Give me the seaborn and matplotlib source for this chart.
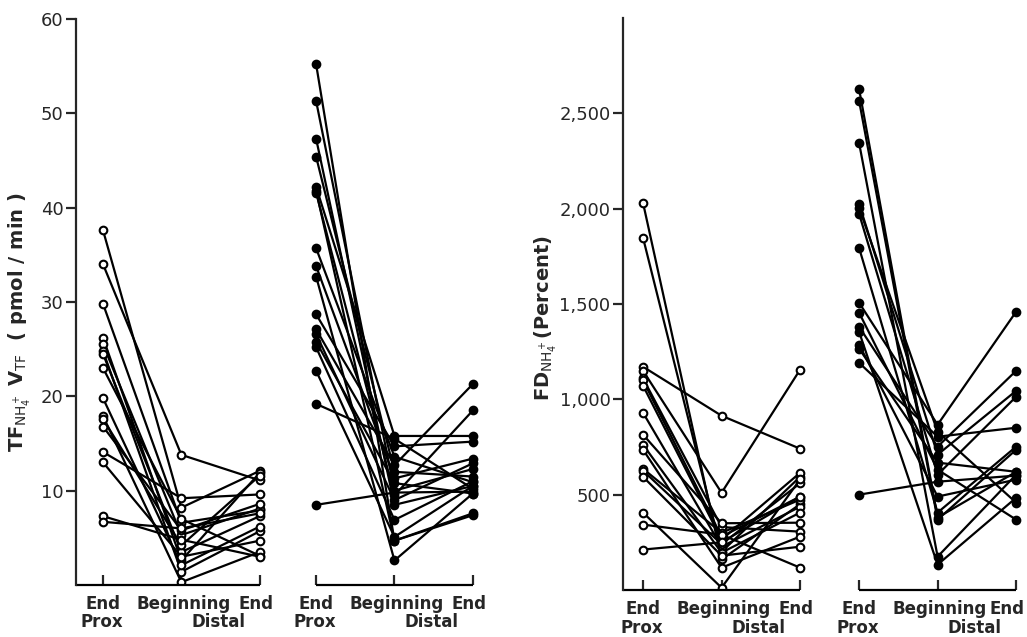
import matplotlib
matplotlib.use("Agg")
import matplotlib.pyplot as plt
import matplotlib.transforms as mtransforms
import numpy as np
import pandas as pd
import seaborn as sns

sns.set_style("ticks")
plt.rcParams["font.family"] = ["DejaVu Sans"]

# ---------------- data ----------------
stage_labels = ["End", "Beginning", "End"]
stage_labels2 = ["Prox", "Distal"]

# Left panel: TF_NH4+ * V_TF (pmol/min)
tf_open_prox = [37.6, 34.0, 29.8, 26.2, 25.5, 24.8, 24.5, 23.0, 19.8, 17.9, 17.6, 16.8, 14.1, 13.0, 7.3, 6.7]
tf_open_beg = [8.2, 13.8, 6.6, 2.6, 5.3, 1.4, 3.5, 7.0, 2.1, 0.3, 4.2, 5.8, 9.2, 3.0, 4.8, 6.0]
tf_open_end = [12.1, 11.1, 7.9, 11.9, 8.1, 5.7, 7.3, 3.1, 6.2, 3.5, 11.6, 8.6, 9.6, 4.7, 3.0, 7.6]

tf_fill_prox = [55.2, 51.3, 47.3, 45.4, 42.2, 41.8, 41.6, 35.7, 33.8, 32.7, 28.7, 27.1, 26.6, 25.8, 25.2, 22.7, 19.2, 8.5]
tf_fill_beg = [4.7, 10.0, 8.5, 12.0, 15.8, 4.7, 9.5, 13.6, 11.3, 2.6, 14.7, 12.7, 9.0, 10.8, 6.9, 5.1, 15.5, 9.8]
tf_fill_end = [7.4, 12.3, 10.5, 11.5, 15.8, 7.6, 18.5, 10.9, 13.4, 9.7, 15.2, 21.3, 12.9, 9.7, 11.0, 10.5, 10.2, 9.9]

# Right panel: FD_NH4+ (Percent)
fd_open_prox = [2031, 1848, 1171, 1150, 1110, 1100, 1072, 930, 815, 762, 736, 636, 626, 594, 406, 343, 212]
fd_open_beg = [160, 200, 914, 510, 330, 280, 264, 227, 350, 196, 117, 300, 240, 180, 12, 290, 250]
fd_open_end = [450, 594, 741, 1156, 306, 490, 615, 437, 353, 406, 280, 474, 560, 227, 580, 117, 490]

fd_fill_prox = [2629, 2567, 2346, 2026, 2005, 1974, 1795, 1507, 1455, 1381, 1355, 1287, 1266, 1192, 500]
fd_fill_beg = [380, 369, 175, 710, 830, 605, 406, 867, 631, 752, 133, 490, 668, 804, 568]
fd_fill_end = [620, 736, 605, 1045, 458, 1014, 752, 1460, 369, 1150, 484, 579, 620, 851, 600]

tf_ticks = [10, 20, 30, 40, 50, 60]
tf_ticklabels = ["10", "20", "30", "40", "50", "60"]
fd_ticks = [500, 1000, 1500, 2000, 2500]
fd_ticklabels = ["500", "1,000", "1,500", "2,000", "2,500"]


def long_df(prox, beg, end, offset):
    rows = []
    for i, (p, b, e) in enumerate(zip(prox, beg, end)):
        for j, v in enumerate((p, b, e)):
            rows.append({"tubule": i, "x": offset + j, "value": v})
    return pd.DataFrame(rows)


def draw(ax, df, filled):
    sns.lineplot(data=df, x="x", y="value", units="tubule", estimator=None,
                 sort=True, color="black", linewidth=1.6, marker="o",
                 markersize=5.5, markerfacecolor="black" if filled else "white",
                 markeredgecolor="black", markeredgewidth=1.5, ax=ax, legend=False)


fig = plt.figure(figsize=(10.27, 6.37), dpi=100)
axL = fig.add_axes([0.074, 0.0816, 0.3963, 0.8886])
axR = fig.add_axes([0.6066, 0.0738, 0.3905, 0.8979])

LW = 1.6
FS = 13
XFS = 12


def setup(ax, g2, xlim, ylim, yticks, yticklabels, last_end_off):
    ax.set_xlim(*xlim)
    ax.set_ylim(*ylim)
    for s in ["top", "right", "bottom"]:
        ax.spines[s].set_visible(False)
    ax.spines["left"].set_linewidth(LW)
    ax.set_yticks(yticks)
    ax.set_yticklabels(yticklabels)
    ax.tick_params(axis="y", direction="out", length=7, width=LW, labelsize=FS, pad=2)
    ax.set_xticks([0, 1, 2, g2, g2 + 1, g2 + 2])
    ax.set_xticklabels([])
    ax.tick_params(axis="x", direction="in", length=7, width=LW)
    ax.set_xlabel("")
    ax.set_ylabel("")
    # baseline / brackets
    ax.plot([xlim[0], 2], [ylim[0], ylim[0]], color="black", lw=LW, clip_on=False,
            solid_capstyle="butt")
    ax.plot([g2, g2 + 2], [ylim[0], ylim[0]], color="black", lw=LW, clip_on=False,
            solid_capstyle="butt")
    tr = mtransforms.blended_transform_factory(ax.transData, ax.transAxes)
    for k, start in enumerate((0, g2)):
        end_off = 1.95 if k == 0 else last_end_off
        for off, lab in zip((0, 1.03, end_off), stage_labels):
            ax.text(start + off, -0.034, lab, transform=tr, ha="center", va="center",
                    fontsize=XFS, fontweight="bold")
        ax.text(start - 0.02, -0.066, stage_labels2[0], transform=tr, ha="center",
                va="center", fontsize=XFS, fontweight="bold")
        ax.text(start + 1.47, -0.066, stage_labels2[1], transform=tr, ha="center",
                va="center", fontsize=XFS, fontweight="bold")


gL = 2.72
gR = 2.75
draw(axL, long_df(tf_open_prox, tf_open_beg, tf_open_end, 0), False)
draw(axL, long_df(tf_fill_prox, tf_fill_beg, tf_fill_end, gL), True)
setup(axL, gL, (-0.345, 4.85), (0, 60), tf_ticks, tf_ticklabels, 1.95)

draw(axR, long_df(fd_open_prox, fd_open_beg, fd_open_end, 0), False)
draw(axR, long_df(fd_fill_prox, fd_fill_beg, fd_fill_end, gR), True)
setup(axR, gR, (-0.255, 4.85), (0, 3000), fd_ticks, fd_ticklabels, 1.88)

fig.text(20 / 1027, 1 - 322 / 637, r"TF$_{\mathrm{NH}_4^+}$ V$_{\mathrm{TF}}$  ( pmol / min )",
         rotation=90, ha="center", va="center", fontsize=14, fontweight="bold")
fig.text(546 / 1027, 1 - 318 / 637, r"FD$_{\mathrm{NH}_4^+}$(Percent)",
         rotation=90, ha="center", va="center", fontsize=14, fontweight="bold")

fig.savefig("out.png", dpi=100)
